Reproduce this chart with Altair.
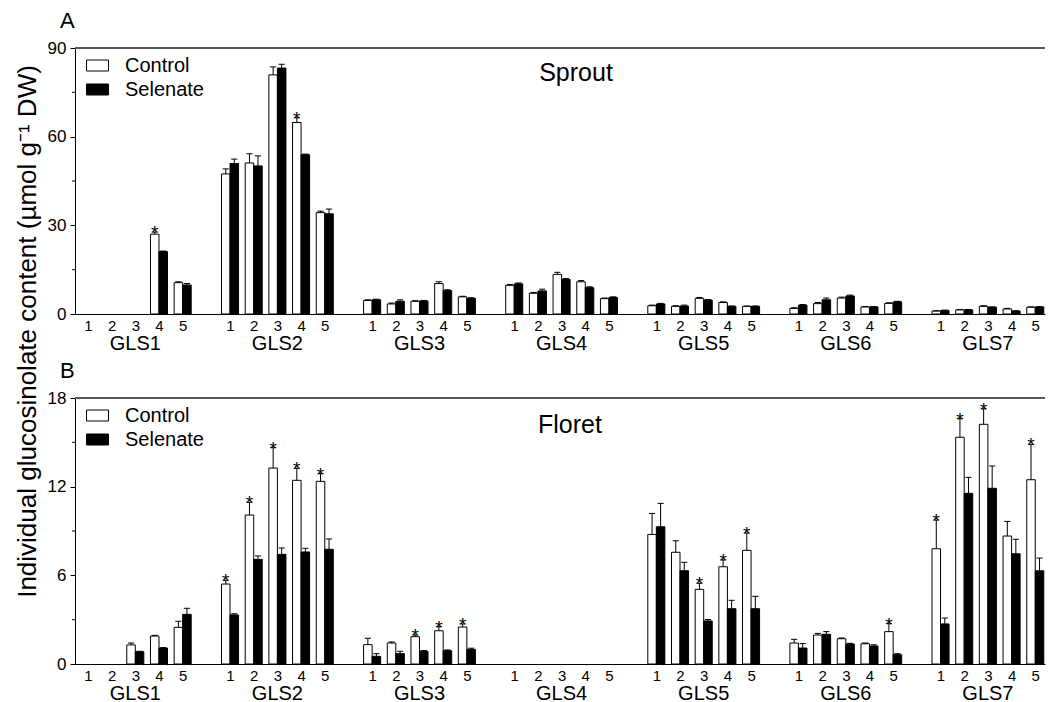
import altair as alt
import pandas as pd

groups = ["GLS1", "GLS2", "GLS3", "GLS4", "GLS5", "GLS6", "GLS7"]
compounds = ["1", "2", "3", "4", "5"]
series_names = ["Control", "Selenate"]

# Sprout (panel A), 7 groups x 5 compounds
sprout_control = [0, 0, 0, 27.0, 10.6,
                  47.4, 51.1, 80.9, 64.8, 34.3,
                  4.6, 3.4, 4.3, 10.3, 5.8,
                  9.7, 7.0, 13.4, 10.9, 5.2,
                  2.8, 2.6, 5.3, 3.9, 2.6,
                  1.9, 3.5, 5.4, 2.4, 3.6,
                  1.0, 1.4, 2.6, 1.7, 2.3]
sprout_control_err = [0, 0, 0, 0.7, 0.3,
                      1.7, 3.1, 2.7, 1.6, 0.5,
                      0.2, 0.3, 0.2, 0.6, 0.2,
                      0.3, 0.3, 0.7, 0.4, 0.2,
                      0.2, 0.2, 0.3, 0.2, 0.1,
                      0.2, 0.4, 0.3, 0.1, 0.2,
                      0.1, 0.1, 0.2, 0.2, 0.1]
sprout_selenate = [0, 0, 0, 21.1, 9.8,
                   50.9, 50.1, 83.2, 53.9, 33.9,
                   4.8, 4.3, 4.4, 7.9, 5.3,
                   10.2, 7.8, 11.7, 8.9, 5.6,
                   3.4, 2.7, 4.7, 2.6, 2.6,
                   3.0, 4.8, 6.1, 2.4, 4.1,
                   1.2, 1.4, 2.3, 1.0, 2.4]
sprout_selenate_err = [0, 0, 0, 0.2, 0.5,
                       1.5, 3.4, 1.3, 0.2, 1.6,
                       0.2, 0.5, 0.2, 0.3, 0.2,
                       0.3, 0.6, 0.3, 0.3, 0.2,
                       0.2, 0.3, 0.2, 0.1, 0.1,
                       0.2, 0.6, 0.3, 0.1, 0.2,
                       0.1, 0.1, 0.1, 0.1, 0.1]
sprout_sig = [3, 8]

# Floret (panel B)
floret_control = [0, 0, 1.29, 1.89, 2.48,
                  5.41, 10.08, 13.26, 12.43, 12.36,
                  1.31, 1.42, 1.85, 2.25, 2.50,
                  0, 0, 0, 0, 0,
                  8.77, 7.56, 5.05, 6.58, 7.69,
                  1.42, 1.96, 1.71, 1.37, 2.19,
                  7.80, 15.34, 16.22, 8.66, 12.47]
floret_control_err = [0, 0, 0.13, 0.05, 0.41,
                      0.25, 0.86, 1.38, 0.81, 0.52,
                      0.43, 0.07, 0.11, 0.27, 0.21,
                      0, 0, 0, 0, 0,
                      1.42, 0.78, 0.41, 0.46, 1.17,
                      0.25, 0.11, 0.05, 0.05, 0.54,
                      1.94, 1.26, 1.05, 0.99, 2.39]
floret_selenate = [0, 0, 0.83, 1.08, 3.36,
                   3.32, 7.08, 7.42, 7.58, 7.76,
                   0.52, 0.70, 0.86, 0.90, 0.99,
                   0, 0, 0, 0, 0,
                   9.29, 6.31, 2.91, 3.74, 3.74,
                   1.08, 2.01, 1.35, 1.22, 0.63,
                   2.71, 11.55, 11.89, 7.46, 6.31]
floret_selenate_err = [0, 0, 0.03, 0.03, 0.41,
                       0.08, 0.23, 0.43, 0.25, 0.70,
                       0.18, 0.16, 0.05, 0.05, 0.08,
                       0, 0, 0, 0, 0,
                       1.58, 0.57, 0.10, 0.57, 0.84,
                       0.30, 0.18, 0.05, 0.08, 0.07,
                       0.40, 1.08, 1.51, 0.98, 0.86]
floret_sig = [5, 6, 7, 8, 9, 12, 13, 14, 22, 23, 24, 29, 30, 31, 32, 34]

sprout_ticks = [0, 30, 60, 90]
sprout_minor = [15, 45, 75]
floret_ticks = [0, 6, 12, 18]
floret_minor = [3, 9, 15]

Y_TITLE = "Individual glucosinolate content (\u00b5mol g\u207b\u00b9 DW)"

BW = 0.36   # bar width in slot units
CAP = 0.13
W, H = 970, 266
FONT = "Liberation Sans"


def slot(k):
    g, i = divmod(k, 5)
    return g * 6 + i


def build(ctrl, ctrl_err, sel, sel_err, sig):
    rows = []
    for k in range(len(ctrl)):
        pos = slot(k)
        for s, vals, errs, x0, x1 in [("Control", ctrl, ctrl_err, pos - BW, pos),
                                      ("Selenate", sel, sel_err, pos, pos + BW)]:
            v = vals[k]
            e = errs[k]
            xc = (x0 + x1) / 2
            rows.append(dict(series=s, x0=x0, x1=x1, xc=xc, c0=xc - CAP, c1=xc + CAP,
                             value=v, err=e, top=v + e, star=(s == "Control" and k in sig)))
    return pd.DataFrame(rows)


tick_pos = [slot(k) for k in range(35)]
gdf = pd.DataFrame({"group": groups, "gpos": [g * 6 + 2 for g in range(7)]})


def panel(df, ymax, yvals, minor, name, name_x, name_y, letter, show_title):
    xscale = alt.Scale(domain=[-0.335, 40.2], nice=False, zero=False)
    yscale = alt.Scale(domain=[0, ymax], nice=False)
    xaxis = alt.Axis(values=tick_pos, labelExpr="datum.value % 6 + 1", ticks=False,
                     domainColor="black", domainWidth=1, labelFontSize=15, labelPadding=4,
                     labelColor="black", title=None, grid=False, labelFlush=False,
                     labelOverlap=False)
    yaxis_kw = dict(values=yvals, tickSize=5, tickColor="black", domainColor="black",
                    labelFontSize=17, labelPadding=4, labelColor="black", grid=False,
                    labelFlush=False, labelOverlap=False)
    if show_title:
        yaxis_kw.update(title=Y_TITLE, titleFontSize=26, titleFontWeight="normal",
                        titleAngle=-90, titleX=-40, titleY=283, titleAlign="center",
                        titleBaseline="alphabetic", titleColor="black")
    else:
        yaxis_kw.update(title=None)
    yaxis = alt.Axis(**yaxis_kw)

    def X(f):
        return alt.X(f, scale=xscale, axis=xaxis)

    def Y(f):
        return alt.Y(f, scale=yscale, axis=yaxis)

    base = alt.Chart(df)
    bars = base.transform_filter("datum.value > 0").mark_bar(
        stroke="black", strokeWidth=1, orient="vertical").encode(
        x=X("x0:Q"),
        x2="x1:Q",
        y=Y("value:Q"),
        y2=alt.datum(0),
        fill=alt.Fill("series:N",
                      scale=alt.Scale(domain=series_names, range=["#ffffff", "#000000"]),
                      legend=alt.Legend(orient="none", legendX=11, legendY=6, title=None,
                                        symbolType="M-1,-0.5H1V0.5H-1Z", symbolSize=484,
                                        symbolStrokeColor="black", symbolStrokeWidth=1,
                                        symbolOpacity=1, labelFontSize=20, labelOffset=16,
                                        labelColor="black", padding=0, rowPadding=2)),
    )
    errs = base.transform_filter("datum.err > 0").mark_rule(color="black", strokeWidth=1).encode(
        x=X("xc:Q"),
        y=Y("value:Q"),
        y2="top:Q",
    )
    caps = base.transform_filter("datum.err > 0").mark_rule(color="black", strokeWidth=1).encode(
        x=X("c0:Q"),
        x2="c1:Q",
        y=Y("top:Q"),
    )
    stars = base.transform_filter("datum.star").mark_text(
        fontSize=19, baseline="alphabetic", dy=7, color="black").encode(
        x=X("xc:Q"),
        y=Y("top:Q"),
        text=alt.value("*"),
    )
    mdf = pd.DataFrame({"v": minor})
    minor_ticks = alt.Chart(mdf).mark_rule(color="black", strokeWidth=1).encode(
        y=Y("v:Q"),
        x=alt.value(-3), x2=alt.value(0),
    )
    top_line = alt.Chart(mdf).mark_rule(color="#555555", strokeWidth=1.3).encode(
        x=alt.value(0), x2=alt.value(W), y=alt.value(0),
    )
    glabels = alt.Chart(gdf).mark_text(fontSize=20, baseline="alphabetic", color="black").encode(
        x=X("gpos:Q"),
        y=alt.value(H + 36),
        text="group:N",
    )
    ndf = pd.DataFrame({"name": [name]})
    ntext = alt.Chart(ndf).mark_text(fontSize=25, baseline="alphabetic", color="black").encode(
        x=alt.value(name_x), y=alt.value(name_y), text="name:N",
    )
    return alt.layer(bars, errs, caps, stars, minor_ticks, glabels, top_line, ntext).properties(
        width=W, height=H,
        title=alt.Title(letter, anchor="start", frame="group", dx=-15, offset=6,
                        fontSize=22, fontWeight="normal", color="black"),
    )


sprout_df = build(sprout_control, sprout_control_err, sprout_selenate, sprout_selenate_err, sprout_sig)
floret_df = build(floret_control, floret_control_err, floret_selenate, floret_selenate_err, floret_sig)

top = panel(sprout_df, 90, sprout_ticks, sprout_minor, "Sprout", 501, 33, "A", True)
bottom = panel(floret_df, 18, floret_ticks, floret_minor, "Floret", 495, 35, "B", False)

chart = alt.vconcat(top, bottom, spacing=84, bounds="flush").resolve_scale(
    fill="independent").resolve_legend(fill="independent").properties(
    padding={"left": 6, "top": 2, "right": 0, "bottom": 0}
).configure(font=FONT).configure_view(stroke=None)

chart.save("out.html", embed_options={"renderer": "svg", "actions": False})
